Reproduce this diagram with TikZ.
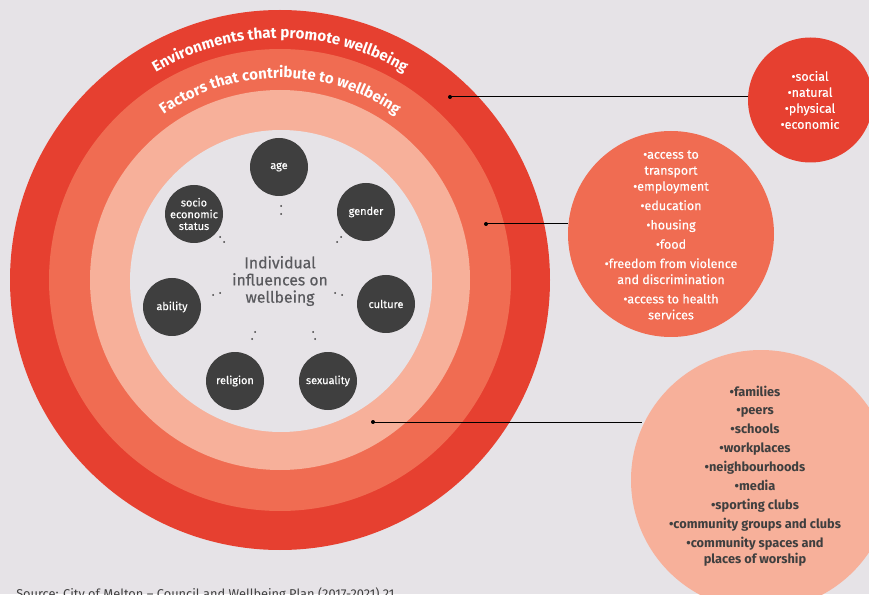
\documentclass[tikz,border=0pt]{standalone}
\usepackage{fontspec}
\setmainfont{Fira Sans}
\newfontfamily\med[FakeBold=0.35]{Fira Sans}
\usetikzlibrary{decorations.text}
\definecolor{bgc}{HTML}{E6E3E7}
\definecolor{redc}{HTML}{E64030}
\definecolor{orc}{HTML}{F06C52}
\definecolor{pec}{HTML}{F7B09A}
\definecolor{dark}{HTML}{3F3F3F}
\definecolor{inftxt}{HTML}{5A5A5E}
\tikzset{
  ring/.style={circle,inner sep=0pt,minimum size=#1*0.75pt},
  factor/.style={circle,fill=dark,inner sep=0pt,minimum size=58*0.75pt,text=white,align=center,font=\fontsize{8.2}{8.8}\med},
  info/.style={circle,inner sep=0pt,text=white,align=center},
  link/.style={draw=black,line width=0.75pt},
  anchorDot/.style={circle,fill=black,inner sep=0pt,minimum size=3pt},
  tick/.style={circle,fill=dark,inner sep=0pt,minimum size=1.5pt}
}
\begin{document}
\begin{tikzpicture}[x=0.75pt,y=0.75pt]
\useasboundingbox (0,0) rectangle (869,594);
\clip (0,0) rectangle (869,594);
\fill[bgc] (0,0) rectangle (869,594);
\node[ring=540,fill=redc] (outer) at (280,314) {};
\node[ring=462,fill=orc] (mid) at (280,314) {};
\node[ring=380,fill=pec] (light) at (280,314) {};
\node[ring=302,fill=bgc] (inner) at (281,313) {};
% curved titles
\path[decorate,decoration={text along path,text align=center,text={|\fontsize{11.3}{11.3}\selectfont\bfseries\color{white}|Environments that promote wellbeing}}]
  (280,314) ++(135:242) arc[start angle=135,end angle=45,radius=242];
\path[decorate,decoration={text along path,text align=center,text={|\fontsize{11.3}{11.3}\selectfont\bfseries\color{white}|Factors that contribute to wellbeing}}]
  (280,314) ++(140:202) arc[start angle=140,end angle=40,radius=202];
% factors
\node[factor] (age) at (279,427) {age};
\node[factor] (gender) at (366,382) {gender};
\node[factor] (culture) at (386,290) {culture};
\node[factor] (sexuality) at (328,213) {sexuality};
\node[factor] (religion) at (235,213) {religion};
\node[factor] (ability) at (172,287) {ability};
\node[factor] (socio) at (194,380) {socio\\economic\\status};
\node[text=inftxt,align=center,font=\fontsize{11.8}{12.9}\med] (title) at (280,313) {Individual\\influences on\\wellbeing};
% small dots
\foreach \n/\x/\y in {a/281/388,b/281/380,c/341/357,d/337/352,e/220/357,f/224/352,g/335/301,h/342/299,i/213/299,j/220/301,k/313/262,l/315/255,m/255/262,n/252/255}
  \node[tick] (t\n) at (\x,\y) {};
% right circles
\node[info,fill=redc,minimum size=125*0.75pt] (envc) at (810.5,494) {};
\node[text=white,align=center,font=\fontsize{9.4}{12}\med] (envT) at (810,494) {•social\\•natural\\•physical\\•economic};
\node[info,fill=orc,minimum size=206*0.75pt] (facc) at (671,360) {};
\node[text=white,align=center,font=\fontsize{9.4}{12}\med] (faccT) at (671,359) {•access to\\transport\\•employment\\[2.5pt]•education\\[2.5pt]•housing\\[2.5pt]•food\\[2.5pt]•freedom from violence\\and discrimination\\[2.5pt]•access to health\\services};
\node[info,fill=pec,minimum size=260*0.75pt] (comc) at (761,114) {};
\node[text=dark,align=center,font=\fontsize{9.6}{14.2}\selectfont\bfseries] (comT) at (755,118) {•families\\•peers\\•schools\\•workplaces\\•neighbourhoods\\•media\\•sporting clubs\\•community groups and clubs\\•community spaces and\\[-2.2pt]places of worship};
% connectors
\coordinate (p1) at (450,497);
\coordinate (p2) at (486,370);
\coordinate (p3) at (373,172);
\node[anchorDot] (d1) at (p1) {};
\node[anchorDot] (d2) at (p2) {};
\node[anchorDot] (d3) at (p3) {};
\draw[link] (d1.center) -- (d1.center -| envc.west);
\draw[link] (d2.center) -- (d2.center -| facc.west);
\draw[link] (d3.center) -- (642,172);
\node[anchor=base west,text=dark,font=\fontsize{9.6}{10}\selectfont,inner sep=0pt] (src) at (16,-4) {Source: City of Melton – Council and Wellbeing Plan (2017-2021) 21};
\end{tikzpicture}
\end{document}
